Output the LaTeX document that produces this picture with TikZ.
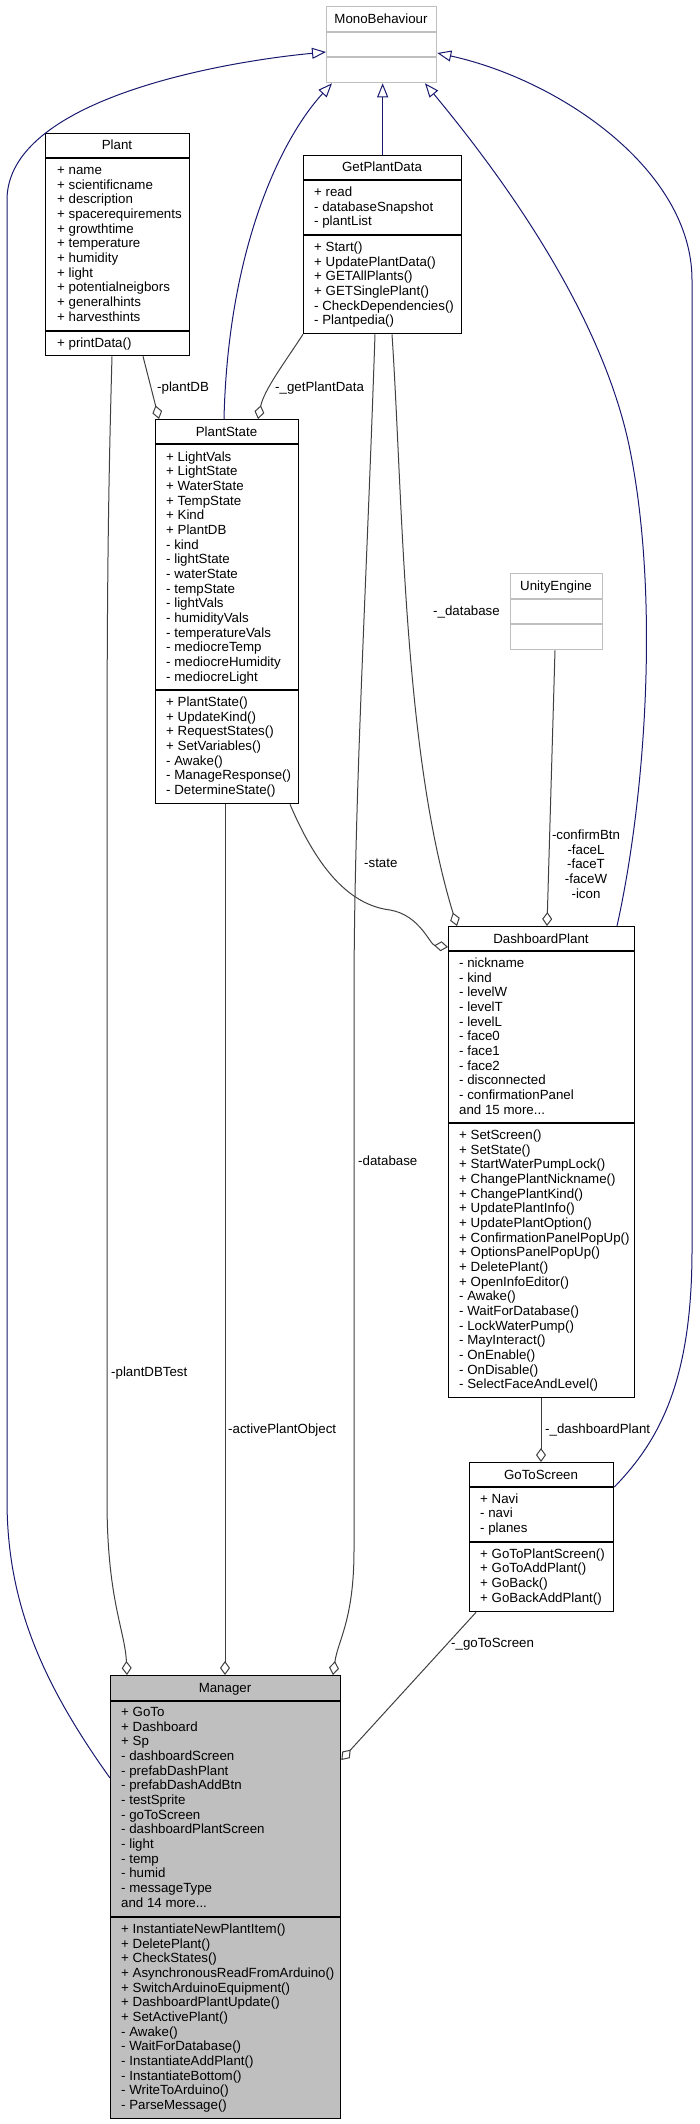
\documentclass[tikz,border=0pt]{standalone}
\usepackage{fontspec}
\setmainfont{Liberation Sans}
\usetikzlibrary{arrows.meta}

\definecolor{edgegray}{HTML}{404040}
\definecolor{inhblue}{HTML}{191970}
\definecolor{boxgray}{HTML}{BFBFBF}

\newcommand{\dfont}{\fontsize{13.3}{14.67}\selectfont}
\newcommand{\tdots}{...}

% class box: style, name, left, top, right, bottom, divider 1, divider 2, title
\newcommand{\classbox}[9]{%
  \node[#1, anchor=north west, minimum width={(#5)-(#3)}, minimum height={(#6)-(#4)}] (#2) at (#3,#4) {};
  \draw[#1, fill=none] (#3,#7) -- (#5,#7) (#3,#8) -- (#5,#8);
  \node[ctitle] at ({((#3)+(#5))/2},{((#4)+(#7))/2+4.5}) {#9};
}
% one member per line, from the first baseline down
\newcommand{\members}[3]{%
  \foreach \m [count=\i from 0] in {#3}
    \node[member] at (#1,{(#2)+\i*14.67}) {\m};
}

\begin{document}
\begin{tikzpicture}[x=1pt, y=-1pt,
  cbox/.style={draw=black, line width=1.3pt, inner sep=0pt},
  extbox/.style={draw=boxgray, line width=1.3pt, inner sep=0pt},
  mainbox/.style={cbox, fill=boxgray},
  ctitle/.style={anchor=base, inner sep=0pt, font=\dfont},
  member/.style={anchor=base west, inner sep=0pt, font=\dfont},
  elabel/.style={anchor=base west, inner sep=0pt, font=\dfont},
  inherit/.style={draw=inhblue, line width=1pt, -{Triangle[open, length=14, width=11]}},
  aggr/.style={draw=edgegray, line width=1pt, -{Diamond[open, length=14, width=10]}}]
\useasboundingbox (0,0) rectangle (700,2124);

% external bases
\classbox{extbox}{mono}{326}{6}{436}{82}{32}{57}{MonoBehaviour}
\classbox{extbox}{unity}{510}{573}{602}{649}{599}{624}{UnityEngine}

% Plant
\classbox{cbox}{plant}{45}{133}{189}{355}{158}{331}{Plant}
\members{57}{174.5}{+ name, + scientificname, + description, + spacerequirements, + growthtime, + temperature, + humidity, + light, + potentialneigbors, + generalhints, + harvesthints}
\members{57}{347.5}{+ printData()}

% GetPlantData
\classbox{cbox}{gpd}{303}{155}{461}{333}{180}{235}{GetPlantData}
\members{314}{196.5}{+ read, - databaseSnapshot, - plantList}
\members{314}{251.5}{+ Start(), + UpdatePlantData(), + GETAllPlants(), + GETSinglePlant(), - CheckDependencies(), - Plantpedia()}

% PlantState
\classbox{cbox}{pstate}{155}{419}{298}{803}{444}{690}{PlantState}
\members{166}{461}{+ LightVals, + LightState, + WaterState, + TempState, + Kind, + PlantDB, - kind, - lightState, - waterState, - tempState, - lightVals, - humidityVals, - temperatureVals, - mediocreTemp, - mediocreHumidity, - mediocreLight}
\members{166}{706.5}{+ PlantState(), + UpdateKind(), + RequestStates(), + SetVariables(), - Awake(), - ManageResponse(), - DetermineState()}

% DashboardPlant
\classbox{cbox}{dash}{448}{926}{634}{1397}{951}{1123}{DashboardPlant}
\members{459}{967.5}{- nickname, - kind, - levelW, - levelT, - levelL, - face0, - face1, - face2, - disconnected, - confirmationPanel, and 15 more\tdots}
\members{459}{1139.5}{+ SetScreen(), + SetState(), + StartWaterPumpLock(), + ChangePlantNickname(), + ChangePlantKind(), + UpdatePlantInfo(), + UpdatePlantOption(), + ConfirmationPanelPopUp(), + OptionsPanelPopUp(), + DeletePlant(), + OpenInfoEditor(), - Awake(), - WaitForDatabase(), - LockWaterPump(), - MayInteract(), - OnEnable(), - OnDisable(), - SelectFaceAndLevel()}

% GoToScreen
\classbox{cbox}{goto}{469}{1462}{613}{1611}{1487}{1542}{GoToScreen}
\members{480}{1503}{+ Navi, - navi, - planes}
\members{480}{1558}{+ GoToPlantScreen(), + GoToAddPlant(), + GoBack(), + GoBackAddPlant()}

% Manager
\classbox{mainbox}{mgr}{110}{1675}{340}{2118}{1701}{1917}{Manager}
\members{121}{1716.5}{+ GoTo, + Dashboard, + Sp, - dashboardScreen, - prefabDashPlant, - prefabDashAddBtn, - testSprite, - goToScreen, - dashboardPlantScreen, - light, - temp, - humid, - messageType, and 14 more\tdots}
\members{121}{1933.5}{+ InstantiateNewPlantItem(), + DeletePlant(), + CheckStates(), + AsynchronousReadFromArduino(), + SwitchArduinoEquipment(), + DashboardPlantUpdate(), + SetActivePlant(), - Awake(), - WaitForDatabase(), - InstantiateAddPlant(), - InstantiateBottom(), - WriteToArduino(), - ParseMessage()}

% inheritance
\draw[inherit] (mgr.west |- 0,1778) .. controls (40,1680) and (7,1600) .. (7,1500) -- (7,200) .. controls (7,100) and (220,62) .. (mono.west |- 0,52);
\draw[inherit] (pstate.north -| 224,0) .. controls (228,250) and (280,140) .. (mono.south -| 332,0);
\draw[inherit] (gpd.north) -- (mono.south -| gpd.north);
\draw[inherit] (dash.north -| 617,0) .. controls (645,800) and (660,600) .. (630,450) .. controls (600,300) and (480,150) .. (mono.south -| 425,0);
\draw[inherit] (goto.east |- 0,1487) .. controls (660,1440) and (692,1380) .. (692,1250) -- (692,280) .. controls (692,170) and (560,80) .. (mono.east |- 0,53);

% aggregation
\draw[aggr] (plant.south -| 143,0) -- (pstate.north -| 159,0);
\node[elabel] (lplantdb) at (157,391.5) {-plantDB};
\draw[aggr] (gpd.south west) .. controls (285,362) and (264,390) .. (pstate.north -| 258,0);
\node[elabel] (lgetdata) at (275,391.5) {-\_getPlantData};
\draw[aggr] (plant.south -| 112,0) .. controls (108,500) and (107,600) .. (107,800) -- (107,1500) .. controls (107,1600) and (125,1630) .. (mgr.north -| 127,0);
\node[elabel] (ltest) at (111,1376.5) {-plantDBTest};
\draw[aggr] (pstate.south -| 225,0) -- (mgr.north -| 225,0);
\node[elabel] (lactive) at (228,1433.5) {-activePlantObject};
\draw[aggr] (gpd.south -| 375,0) .. controls (366,600) and (354,800) .. (354,1000) -- (354,1550) .. controls (354,1620) and (338,1640) .. (mgr.north -| 333,0);
\node[elabel] (ldb) at (358,1165.5) {-database};
\draw[aggr] (gpd.south -| 392,0) .. controls (403,500) and (403,750) .. (dash.north -| 457,0);
\node[elabel] (ldb2) at (433,615.5) {-\_database};
\draw[aggr] (pstate.south -| 290,0) .. controls (318,870) and (350,905) .. (390,910) .. controls (420,915) and (430,945) .. (dash.west |- 0,947);
\node[elabel] (lstate) at (364,867.5) {-state};
\draw[aggr] (unity.south -| 555,0) -- (dash.north -| 547,0);
\node[font=\dfont, align=center, inner sep=0pt] (lunity) at (586,864) {-confirmBtn\\-faceL\\-faceT\\-faceW\\-icon};
\draw[aggr] (dash.south -| 541,0) -- (goto.north -| 541,0);
\node[elabel] (ldash) at (545,1433.5) {-\_dashboardPlant};
\draw[aggr] (goto.south -| 476,0) -- (mgr.east |- 0,1760);
\node[elabel] (lgoto) at (451,1647.5) {-\_goToScreen};
\end{tikzpicture}
\end{document}
